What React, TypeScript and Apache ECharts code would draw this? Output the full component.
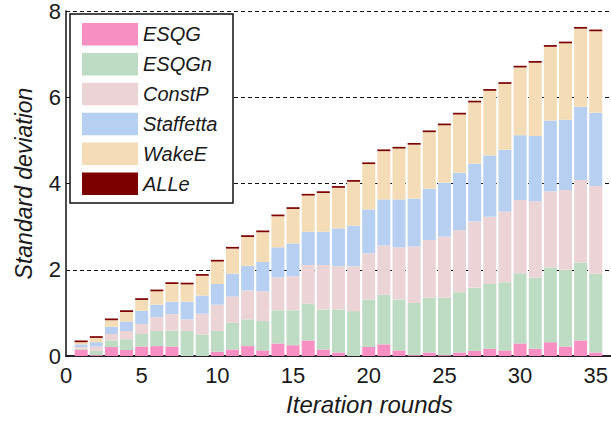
import React, { useEffect, useRef } from "react";
import * as echarts from "echarts";

const rounds = Array.from({ length: 35 }, (_, i) => i + 1);
const axisSlots = Array.from({ length: 37 }, (_, i) => i); // 0..36, bars at 1..35
const xTicks = [0, 5, 10, 15, 20, 25, 30, 35];
const yTicks = [0, 2, 4, 6, 8];

const esqg = [0.15, 0.02, 0.21, 0.14, 0.22, 0.23, 0.22, 0.0, 0.0, 0.1, 0.15, 0.23, 0.13, 0.29, 0.25, 0.36, 0.15, 0.08, 0.0, 0.21, 0.27, 0.13, 0.02, 0.08, 0.02, 0.08, 0.12, 0.17, 0.13, 0.29, 0.17, 0.32, 0.22, 0.36, 0.08];
const esqgn = [0.02, 0.1, 0.15, 0.25, 0.29, 0.35, 0.37, 0.58, 0.5, 0.48, 0.62, 0.62, 0.68, 0.77, 0.81, 0.85, 0.93, 1.0, 1.04, 1.1, 1.15, 1.18, 1.21, 1.27, 1.33, 1.4, 1.46, 1.5, 1.58, 1.63, 1.65, 1.73, 1.78, 1.81, 1.83];
const constP = [0.04, 0.1, 0.15, 0.19, 0.23, 0.32, 0.38, 0.27, 0.48, 0.61, 0.61, 0.67, 0.69, 0.76, 0.79, 0.9, 1.03, 1.0, 1.04, 1.07, 1.14, 1.21, 1.31, 1.34, 1.42, 1.44, 1.54, 1.56, 1.64, 1.7, 1.77, 1.77, 1.85, 1.91, 2.03];
const staffetta = [0.06, 0.1, 0.17, 0.22, 0.31, 0.29, 0.29, 0.41, 0.42, 0.48, 0.53, 0.57, 0.68, 0.7, 0.76, 0.77, 0.77, 0.88, 0.94, 1.02, 1.07, 1.11, 1.11, 1.19, 1.25, 1.33, 1.34, 1.42, 1.43, 1.5, 1.51, 1.64, 1.63, 1.7, 1.7];
const wakeE = [0.05, 0.1, 0.15, 0.22, 0.25, 0.31, 0.41, 0.4, 0.46, 0.52, 0.58, 0.67, 0.69, 0.72, 0.8, 0.84, 0.9, 0.94, 1.02, 1.05, 1.12, 1.18, 1.25, 1.31, 1.33, 1.35, 1.42, 1.5, 1.53, 1.57, 1.7, 1.71, 1.77, 1.81, 1.89];
const allE = [0.04, 0.04, 0.04, 0.04, 0.04, 0.04, 0.04, 0.04, 0.04, 0.04, 0.04, 0.04, 0.04, 0.04, 0.04, 0.04, 0.04, 0.04, 0.04, 0.04, 0.04, 0.04, 0.04, 0.04, 0.04, 0.04, 0.04, 0.04, 0.04, 0.04, 0.04, 0.04, 0.04, 0.04, 0.04];

const seriesNames = ["ESQG", "ESQGn", "ConstP", "Staffetta", "WakeE", "ALLe"];
const seriesValues = [esqg, esqgn, constP, staffetta, wakeE, allE];
const seriesColors = ["#f78fc2", "#bddcc3", "#ecd4d6", "#b7d0f1", "#f3dcb6", "#7d0000"];

export default function App() {
  const ref = useRef<HTMLDivElement>(null);
  useEffect(() => {
    const chart = echarts.init(ref.current!, null, { renderer: "svg" });
    const font = "'Liberation Sans', Arial, sans-serif";
    chart.setOption({
      animation: false,
      backgroundColor: "#ffffff",
      grid: { left: 66, right: -2, top: 11, bottom: 63, containLabel: false },
      graphic: [
        {
          type: "rect",
          z: 10,
          shape: { x: 70, y: 14, width: 163, height: 189 },
          style: { fill: "#fff", stroke: "#111", lineWidth: 1.5 },
        },
      ],
      legend: {
        orient: "vertical",
        left: 82,
        top: 23,
        z: 20,
        itemWidth: 56,
        itemHeight: 22.5,
        itemGap: 7.4,
        padding: 0,
        icon: "rect",
        textStyle: { fontFamily: font, fontStyle: "italic", fontSize: 20, color: "#1a1a1a" },
        data: seriesNames,
      },
      xAxis: {
        type: "category",
        boundaryGap: false,
        data: axisSlots.map(String),
        name: "Iteration rounds",
        nameLocation: "middle",
        nameGap: 36,
        nameTextStyle: {
          fontFamily: font,
          fontStyle: "italic",
          fontSize: 24,
          color: "#1a1a1a",
          padding: [0, 0, 0, 62],
        },
        axisLine: { show: true, onZero: false, lineStyle: { color: "#2a1f2a", width: 2 } },
        axisTick: { show: false },
        splitLine: { show: false },
        axisLabel: {
          fontFamily: font,
          fontSize: 22,
          color: "#1a1a1a",
          margin: 8,
          interval: (idx: number) => xTicks.includes(idx),
        },
      },
      yAxis: {
        type: "value",
        min: 0,
        max: 8,
        interval: 2,
        name: "Standard deviation",
        nameLocation: "middle",
        nameGap: 31,
        nameTextStyle: { fontFamily: font, fontStyle: "italic", fontSize: 23, color: "#1a1a1a" },
        axisLine: { show: true, lineStyle: { color: "#111", width: 1.5 } },
        axisTick: { show: true, inside: true, length: 4, lineStyle: { color: "#111" } },
        axisLabel: {
          fontFamily: font,
          fontSize: 22,
          color: "#1a1a1a",
          margin: 5,
          formatter: (v: number) => (yTicks.includes(v) ? String(v) : ""),
        },
        splitLine: { show: true, lineStyle: { color: "#111", type: [4, 3], width: 1.2 } },
      },
      series: seriesNames.map((name, si) => ({
        name,
        type: "bar",
        stack: "total",
        barWidth: 13,
        itemStyle: { color: seriesColors[si] },
        data: axisSlots.map((s) => {
          const i = rounds.indexOf(s);
          return i >= 0 ? seriesValues[si][i] : null;
        }),
      })),
    });
    return () => chart.dispose();
  }, []);
  return (
    <div
      ref={ref}
      style={{ position: "fixed", left: 0, top: 0, width: 611, height: 421, background: "#fff" }}
    />
  );
}
